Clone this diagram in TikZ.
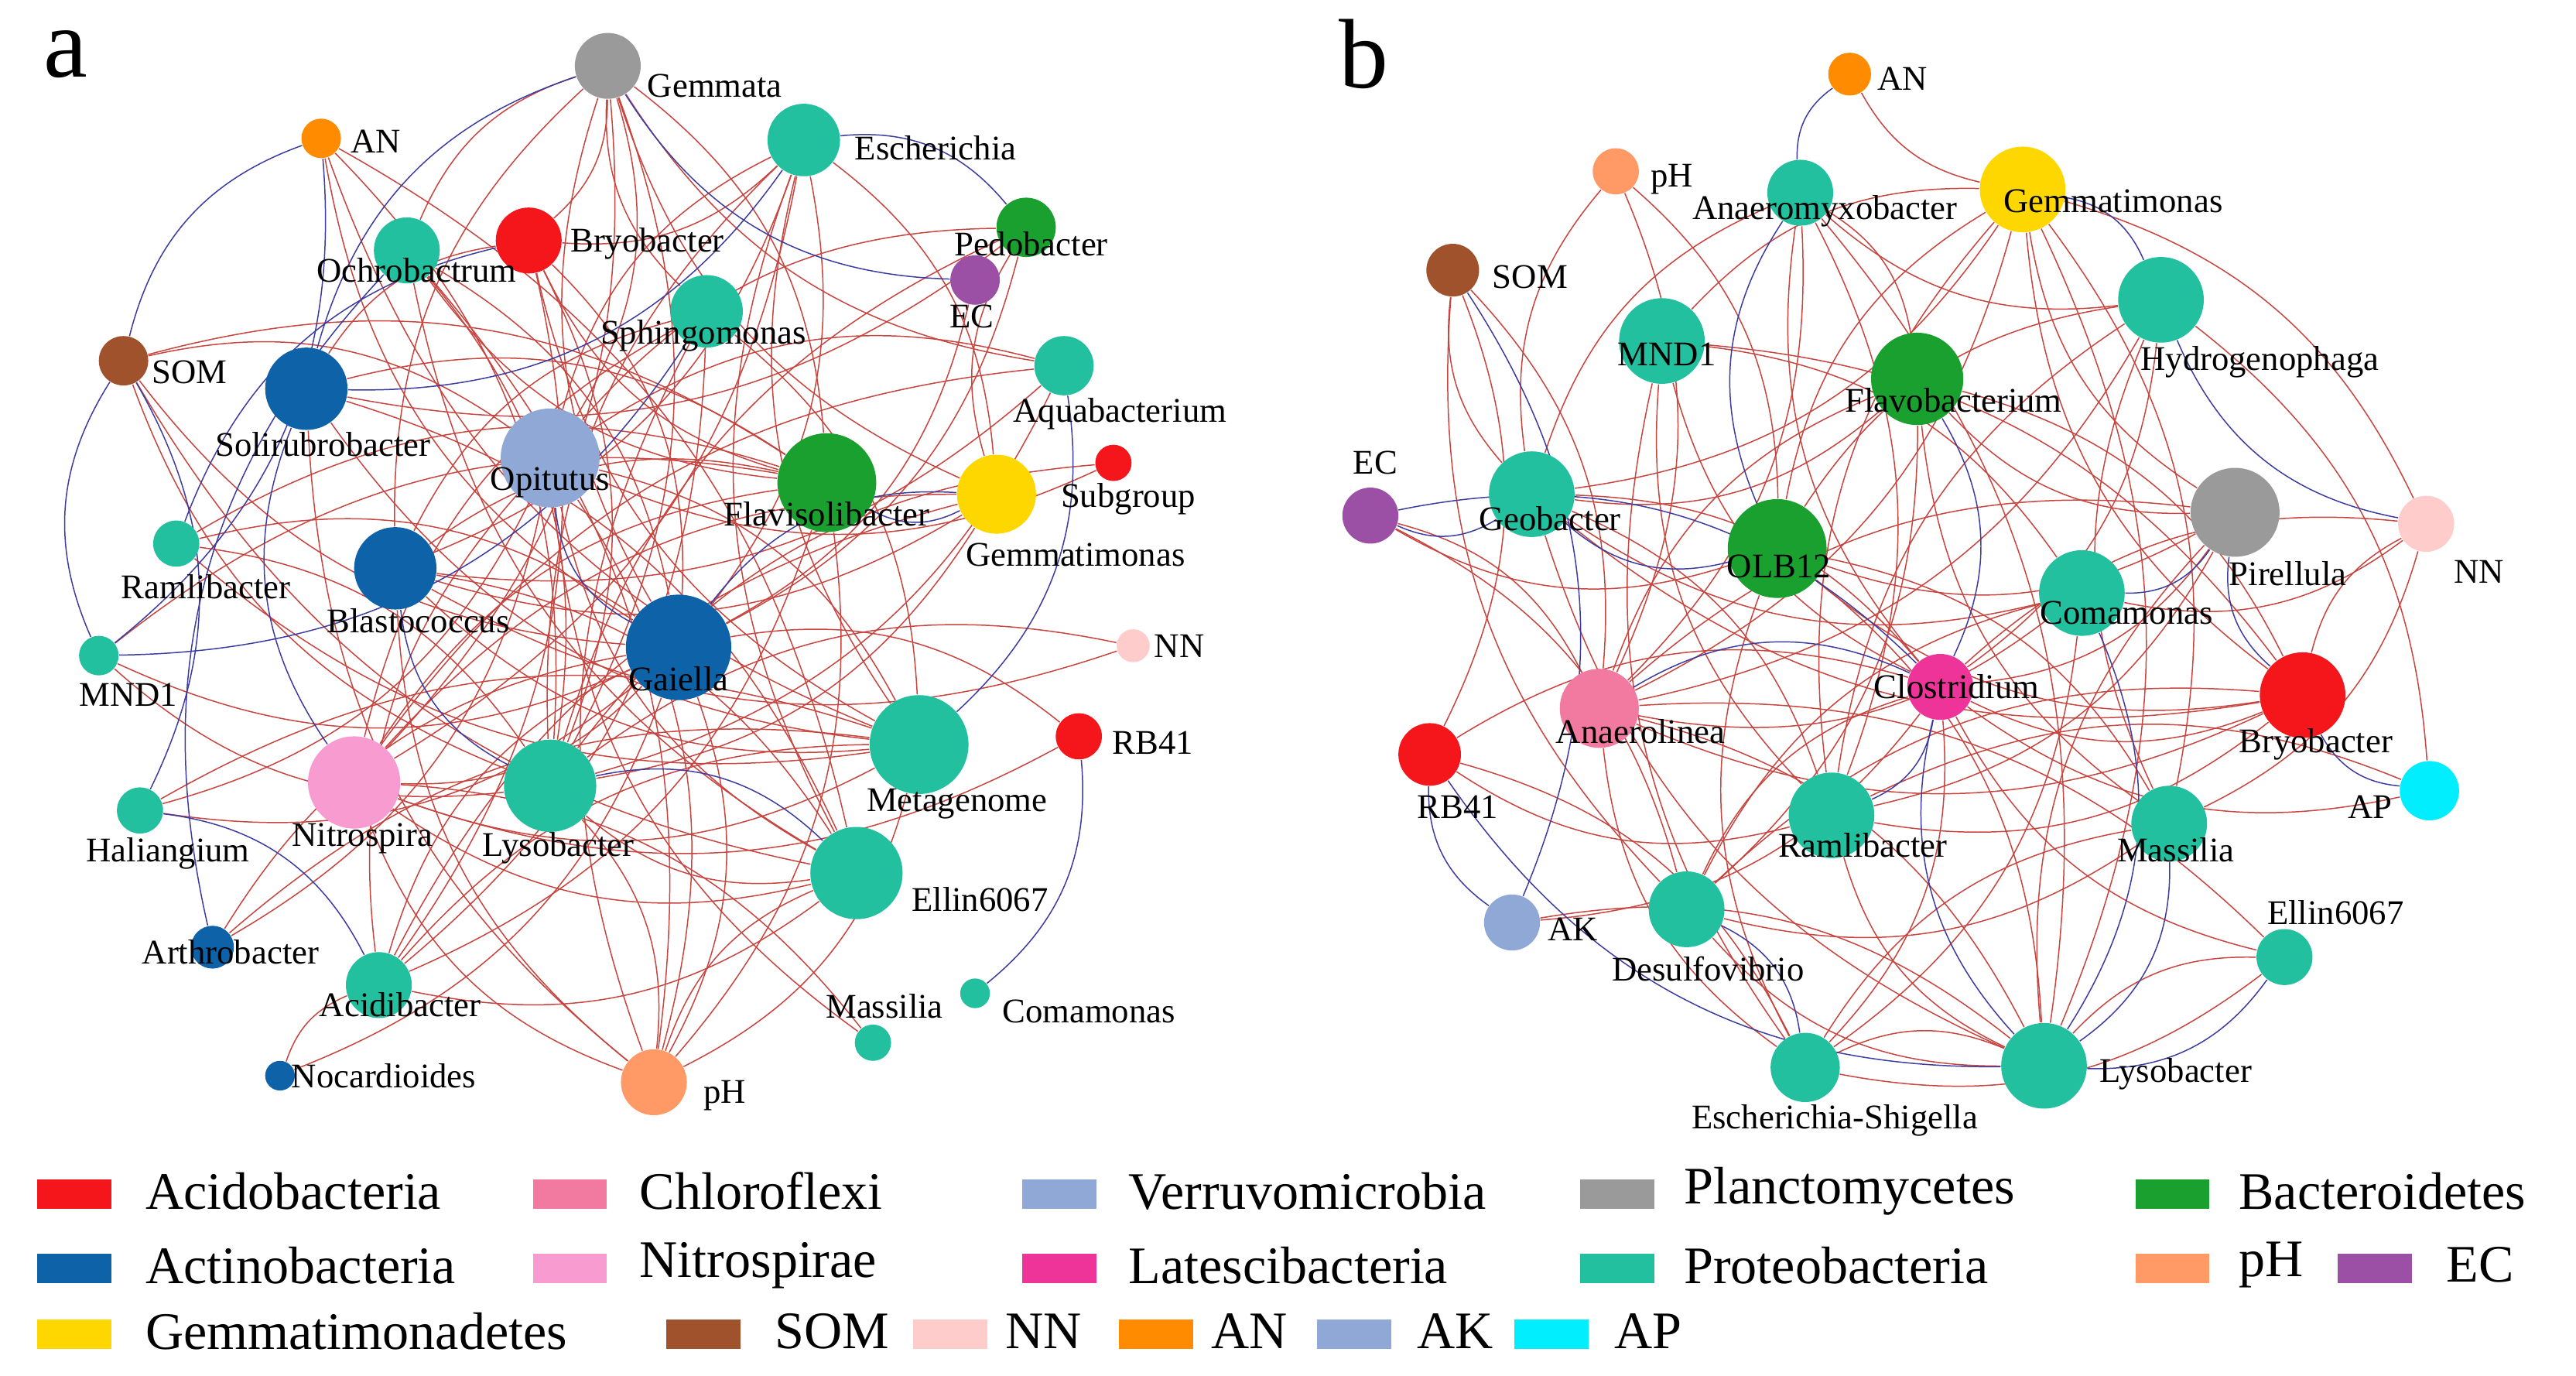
\documentclass[tikz,border=0pt]{standalone}
\usepackage{fontspec}
\setmainfont{Liberation Serif}
\pgfdeclarelayer{edgelayer}
\pgfsetlayers{edgelayer,main}
\definecolor{cR}{HTML}{F5161B}
\definecolor{cB}{HTML}{0E63A8}
\definecolor{cT}{HTML}{22C09E}
\definecolor{cG}{HTML}{1AA02E}
\definecolor{cGr}{HTML}{9A9A9A}
\definecolor{cY}{HTML}{FFD700}
\definecolor{cO}{HTML}{FF8C00}
\definecolor{cS}{HTML}{FF9966}
\definecolor{cP}{HTML}{9B4FA5}
\definecolor{cBr}{HTML}{A0522D}
\definecolor{cNi}{HTML}{F89BD0}
\definecolor{cCh}{HTML}{F27AA0}
\definecolor{cNN}{HTML}{FFCCCC}
\definecolor{cLB}{HTML}{8FA8D6}
\definecolor{cM}{HTML}{EE3399}
\definecolor{cC}{HTML}{00EEFF}
\definecolor{eR}{HTML}{C8443F}
\definecolor{eB}{HTML}{3C3CA0}
\tikzset{
  nd/.style={circle,inner sep=0pt,draw=none},
  lbl/.style={font=\fontsize{10.5}{12}\selectfont,inner sep=0pt},
  leg/.style={font=\fontsize{16}{18}\selectfont,anchor=west,inner sep=0pt},
  sw/.style={minimum width=22.5pt,minimum height=9pt,inner sep=0pt,draw=none},
  re/.style={draw=eR,line width=0.35pt},
  be/.style={draw=eB,line width=0.35pt},
}
\newcommand\mynode[5]{\node[nd,fill=#5,minimum size=#4pt] (#1) at (#2,#3) {};}
\newcommand\mylab[4]{\node[lbl] (#1) at (#2,#3) {#4};}
\begin{document}
\begin{tikzpicture}[x=0.5pt,y=-0.5pt]
\useasboundingbox (0,0) rectangle (1564,835);
\begin{pgfonlayer}{edgelayer}
\fill[white] (0,0) rectangle (1564,835);
\end{pgfonlayer}
% ---------- panel a nodes ----------
\mynode{aGem}{369}{40}{20}{cGr}
\mynode{aAN}{195}{84}{12}{cO}
\mynode{aEsc}{488}{85}{22}{cT}
\mynode{aBry}{321}{146}{20}{cR}
\mynode{aOch}{247}{152}{20}{cT}
\mynode{aPed}{623}{138}{18}{cG}
\mynode{aEC}{592}{170}{15}{cP}
\mynode{aSph}{429}{189}{22}{cT}
\mynode{aSOM}{75}{219}{15}{cBr}
\mynode{aSol}{186}{236}{25}{cB}
\mynode{aAqu}{646}{222}{18}{cT}
\mynode{aOpi}{334}{278}{30}{cLB}
\mynode{aFla}{502}{293}{30}{cG}
\mynode{aGmm}{605}{300}{24}{cY}
\mynode{aSub}{676}{281}{11}{cR}
\mynode{aRam}{107}{330}{14}{cT}
\mynode{aBla}{240}{345}{25}{cB}
\mynode{aMND}{60}{398}{12}{cT}
\mynode{aGai}{412}{393}{32}{cB}
\mynode{aNN}{688}{392}{10}{cNN}
\mynode{aMet}{558}{452}{30}{cT}
\mynode{aRB}{655}{447}{14}{cR}
\mynode{aNit}{215}{475}{28}{cNi}
\mynode{aLys}{334}{477}{28}{cT}
\mynode{aHal}{85}{492}{14}{cT}
\mynode{aEll}{520}{530}{28}{cT}
\mynode{aArt}{129}{575}{13}{cB}
\mynode{aAci}{230}{598}{20}{cT}
\mynode{aMas}{530}{633}{11}{cT}
\mynode{aCom}{592}{603}{9}{cT}
\mynode{aNoc}{170}{653}{9}{cB}
\mynode{apH}{397}{657}{20}{cS}
% ---------- panel b nodes ----------
\mynode{bAN}{1123}{45}{13}{cO}
\mynode{bpH}{981}{104}{14}{cS}
\mynode{bAna}{1093}{117}{20}{cT}
\mynode{bGmm}{1228}{115}{26}{cY}
\mynode{bSOM}{882}{164}{16}{cBr}
\mynode{bHyd}{1312}{182}{26}{cT}
\mynode{bMND}{1009}{207}{26}{cT}
\mynode{bFla}{1164}{230}{28}{cG}
\mynode{bEC}{832}{313}{17}{cP}
\mynode{bGeo}{930}{300}{26}{cT}
\mynode{bOLB}{1079}{333}{30}{cG}
\mynode{bPir}{1357}{311}{27}{cGr}
\mynode{bNN}{1473}{318}{17}{cNN}
\mynode{bCom}{1264}{360}{26}{cT}
\mynode{bClo}{1178}{417}{20}{cM}
\mynode{bAnl}{971}{430}{24}{cCh}
\mynode{bBry}{1398}{422}{26}{cR}
\mynode{bRB}{868}{458}{19}{cR}
\mynode{bAP}{1475}{480}{18}{cC}
\mynode{bRam}{1112}{495}{26}{cT}
\mynode{bMas}{1317}{500}{23}{cT}
\mynode{bAK}{918}{560}{17}{cLB}
\mynode{bDes}{1024}{552}{23}{cT}
\mynode{bEll}{1387}{581}{17}{cT}
\mynode{bEsc}{1096}{648}{21}{cT}
\mynode{bLys}{1241}{647}{26}{cT}
% ---------- edges ----------
\begin{pgfonlayer}{edgelayer}
\foreach \u/\v [count=\i] in {Gem/Och,Gem/Bry,Gem/Sph,Gem/Opi,Gem/Gai,Gem/Fla,Gem/Gmm,Gem/Nit,Gem/Bla,Gem/Lys,Gem/Aqu,Esc/Bry,Esc/Opi,Esc/Gai,Esc/Met,Esc/Gmm,Esc/Lys,Esc/Nit,Esc/Ell,Esc/Bla,Bry/Sol,Bry/Gai,Bry/Fla,Bry/Lys,Bry/Met,Bry/Aci,Och/Fla,Och/Gai,Och/Ell,Och/Lys,Ped/Opi,Ped/Gai,Ped/Lys,Ped/Sol,Ped/Gmm,EC/Gai,Sph/Nit,Sph/Aci,Sph/Bla,Sph/Met,SOM/Gai,SOM/Fla,SOM/Lys,SOM/Opi,SOM/Ell,Sol/Fla,Sol/Met,Sol/Ell,Sol/pH,Aqu/Lys,Aqu/Nit,Aqu/Bla,Aqu/Opi,Opi/Met,Opi/Ell,Opi/pH,Opi/Aci,Opi/Hal,Fla/Nit,Fla/Aci,Fla/Bla,Fla/pH,Fla/Ram,Gmm/Lys,Gmm/Nit,Gmm/Bla,Gmm/Aci,Sub/Opi,Sub/Lys,Ram/Gai,Ram/Met,Ram/Lys,Bla/Met,Bla/Ell,Bla/pH,MND/Fla,MND/Gai,Gai/Nit,Gai/Aci,Gai/pH,Gai/Art,Met/Nit,Met/Aci,Met/pH,NN/Lys,NN/Bla,RB/Gai,RB/Nit,Nit/Ell,Lys/pH,Lys/Ell,Hal/Met,Hal/Gai,Ell/Aci,Ell/pH,Art/Met,Noc/Gai,Mas/Opi,Mas/Nit,AN/Lys,AN/Gai,AN/Ell,AN/Met,pH/Nit,Art/Opi,Noc/Aci,MND/Lys,Och/pH,Sph/pH}
{\pgfmathsetmacro\bd{mod(\i,2)==0 ? 24 : -24}
 \draw[re] (a\u) to[bend left=\bd] (a\v);}
\foreach \u/\v [count=\i] in {AN/SOM,AN/MND,SOM/MND,SOM/Hal,Gem/Sol,Esc/Sol,Bry/Ram,Sph/MND,Och/Art,Aqu/Met,Gmm/Gai,RB/Com,Opi/Gai,Esc/Ped,Gem/EC,Hal/Aci,Sol/Nit,Lys/Ell,Bla/Lys,Gmm/Fla}
{\pgfmathsetmacro\bd{mod(\i,2)==0 ? 28 : -28}
 \draw[be] (a\u) to[bend left=\bd] (a\v);}
\foreach \u/\v [count=\i] in {Gmm/MND,Gmm/Geo,Gmm/OLB,Gmm/Anl,Gmm/Ram,Gmm/Mas,Gmm/Bry,Gmm/NN,Gmm/Pir,Gmm/Lys,Ana/Geo,Ana/Fla,Ana/Clo,Ana/Ram,Ana/Hyd,Ana/Anl,AN/Gmm,pH/Anl,pH/Geo,pH/OLB,SOM/Geo,SOM/Anl,SOM/Des,SOM/RB,Hyd/OLB,Hyd/Clo,Hyd/Mas,Hyd/Anl,Hyd/Ram,Hyd/AP,MND/Clo,MND/Com,MND/Ram,MND/Bry,MND/Esc,Fla/Geo,Fla/Anl,Fla/Des,Fla/Mas,Fla/Bry,Fla/Pir,EC/Anl,EC/OLB,EC/Des,Geo/Com,Geo/Ram,Geo/Lys,Geo/Clo,OLB/Bry,OLB/Mas,OLB/Esc,OLB/Lys,OLB/Pir,Pir/Clo,Pir/Anl,Pir/Ram,Pir/Lys,NN/Com,NN/Clo,NN/Mas,NN/Bry,Com/Anl,Com/Des,Com/Esc,Clo/Bry,Clo/Esc,Clo/Des,Clo/AK,Anl/Bry,Anl/Lys,Anl/Esc,Bry/Ram,Bry/Des,RB/Clo,RB/Ram,RB/Esc,AP/Ram,AP/Clo,Ram/Lys,Mas/Des,Mas/Esc,AK/Lys,Des/Lys,Ell/Clo,Ell/Anl,Esc/Lys,Esc/Ell,Lys/Ell,Geo/Bry,Ana/Lys}
{\pgfmathsetmacro\bd{mod(\i,2)==0 ? 24 : -24}
 \draw[re] (b\u) to[bend left=\bd] (b\v);}
\foreach \u/\v [count=\i] in {AN/Ana,SOM/AK,EC/Geo,EC/Clo,RB/Lys,AK/RB,Geo/OLB,Gmm/Hyd,Hyd/NN,Pir/Com,Pir/Bry,Com/Lys,Clo/Lys,Anl/Clo,Bry/AP,Ell/Lys,Esc/Des,Fla/Clo,Ram/Clo,Mas/Lys,Ana/OLB}
{\pgfmathsetmacro\bd{mod(\i,2)==0 ? 28 : -28}
 \draw[be] (b\u) to[bend left=\bd] (b\v);}
\end{pgfonlayer}
% ---------- labels a ----------
\node[font=\fontsize{30}{32}\selectfont,inner sep=0pt] (la) at (40,33) {a};
\node[font=\fontsize{30}{32}\selectfont,inner sep=0pt] (lb) at (828,33) {b};
\mylab{aGemL}{434}{52}{Gemmata}
\mylab{aANL}{228}{86}{AN}
\mylab{aEscL}{568}{90}{Escherichia}
\mylab{aBryL}{393}{148}{Bryobacter}
\mylab{aOchL}{253}{164}{Ochrobactrum}
\mylab{aPedL}{626}{148}{Pedobacter}
\mylab{aECL}{590}{192}{EC}
\mylab{aSphL}{427}{204}{Sphingomonas}
\mylab{aSOML}{115}{226}{SOM}
\mylab{aSolL}{196}{270}{Solirubrobacter}
\mylab{aAquL}{680}{251}{Aquabacterium}
\mylab{aOpiL}{334}{293}{Opitutus}
\mylab{aFlaL}{502}{312}{Flavisolibacter}
\mylab{aGmmL}{653}{337}{Gemmatimonas}
\mylab{aSubL}{685}{303}{Subgroup}
\mylab{aRamL}{125}{356}{Ramlibacter}
\mylab{aBlaL}{254}{377}{Blastococcus}
\mylab{aMNDL}{78}{422}{MND1}
\mylab{aGaiL}{412}{412}{Gaiella}
\mylab{aNNL}{716}{392}{NN}
\mylab{aMetL}{581}{488}{Metagenome}
\mylab{aRBL}{700}{451}{RB41}
\mylab{aNitL}{220}{509}{Nitrospira}
\mylab{aLysL}{339}{515}{Lysobacter}
\mylab{aHalL}{102}{518}{Haliangium}
\mylab{aEllL}{595}{546}{Ellin6067}
\mylab{aArtL}{140}{578}{Arthrobacter}
\mylab{aAciL}{243}{610}{Acidibacter}
\mylab{aMasL}{537}{611}{Massilia}
\mylab{aComL}{661}{614}{Comamonas}
\mylab{aNocL}{233}{653}{Nocardioides}
\mylab{apHL}{440}{665}{pH}
% ---------- labels b ----------
\mylab{bANL}{1155}{48}{AN}
\mylab{bpHL}{1015}{109}{pH}
\mylab{bAnaL}{1108}{128}{Anaeromyxobacter}
\mylab{bGmmL}{1283}{122}{Gemmatimonas}
\mylab{bSOML}{929}{168}{SOM}
\mylab{bHydL}{1372}{220}{Hydrogenophaga}
\mylab{bMNDL}{1012}{215}{MND1}
\mylab{bFlaL}{1186}{243}{Flavobacterium}
\mylab{bECL}{835}{281}{EC}
\mylab{bGeoL}{941}{315}{Geobacter}
\mylab{bOLBL}{1080}{344}{OLB12}
\mylab{bPirL}{1389}{348}{Pirellula}
\mylab{bNNL}{1505}{347}{NN}
\mylab{bComL}{1291}{372}{Comamonas}
\mylab{bCloL}{1188}{417}{Clostridium}
\mylab{bAnlL}{996}{444}{Anaerolinea}
\mylab{bBryL}{1406}{452}{Bryobacter}
\mylab{bRBL}{885}{490}{RB41}
\mylab{bAPL}{1439}{490}{AP}
\mylab{bRamL}{1131}{513}{Ramlibacter}
\mylab{bMasL}{1321}{516}{Massilia}
\mylab{bAKL}{955}{564}{AK}
\mylab{bDesL}{1037}{588}{Desulfovibrio}
\mylab{bEllL}{1418}{554}{Ellin6067}
\mylab{bEscL}{1114}{680}{Escherichia-Shigella}
\mylab{bLysL}{1321}{652}{Lysobacter}
% ---------- legend ----------
\node[sw,fill=cR] (s1) at (45,725) {}; \node[leg] (t1) at (88,723) {Acidobacteria};
\node[sw,fill=cCh] (s2) at (346,725) {}; \node[leg] (t2) at (388,723) {Chloroflexi};
\node[sw,fill=cLB] (s3) at (643,725) {}; \node[leg] (t3) at (685,723) {Verruvomicrobia};
\node[sw,fill=cGr] (s4) at (982,725) {}; \node[leg] (t4) at (1022,723) {Planctomycetes};
\node[sw,fill=cG] (s5) at (1319,725) {}; \node[leg] (t5) at (1359,723) {Bacteroidetes};
\node[sw,fill=cB] (s6) at (45,770) {}; \node[leg] (t6) at (88,768) {Actinobacteria};
\node[sw,fill=cNi] (s7) at (346,770) {}; \node[leg] (t7) at (388,768) {Nitrospirae};
\node[sw,fill=cM] (s8) at (643,770) {}; \node[leg] (t8) at (685,768) {Latescibacteria};
\node[sw,fill=cT] (s9) at (982,770) {}; \node[leg] (t9) at (1022,768) {Proteobacteria};
\node[sw,fill=cS] (s10) at (1319,770) {}; \node[leg] (t10) at (1359,768) {pH};
\node[sw,fill=cP] (s11) at (1442,770) {}; \node[leg] (t11) at (1485,768) {EC};
\node[sw,fill=cY] (s12) at (45,810) {}; \node[leg] (t12) at (88,808) {Gemmatimonadetes};
\node[sw,fill=cBr] (s13) at (427,810) {}; \node[leg] (t13) at (470,808) {SOM};
\node[sw,fill=cNN] (s14) at (577,810) {}; \node[leg] (t14) at (610,808) {NN};
\node[sw,fill=cO] (s15) at (702,810) {}; \node[leg] (t15) at (735,808) {AN};
\node[sw,fill=cLB] (s16) at (822,810) {}; \node[leg] (t16) at (860,808) {AK};
\node[sw,fill=cC] (s17) at (942,810) {}; \node[leg] (t17) at (980,808) {AP};
\end{tikzpicture}
\end{document}
